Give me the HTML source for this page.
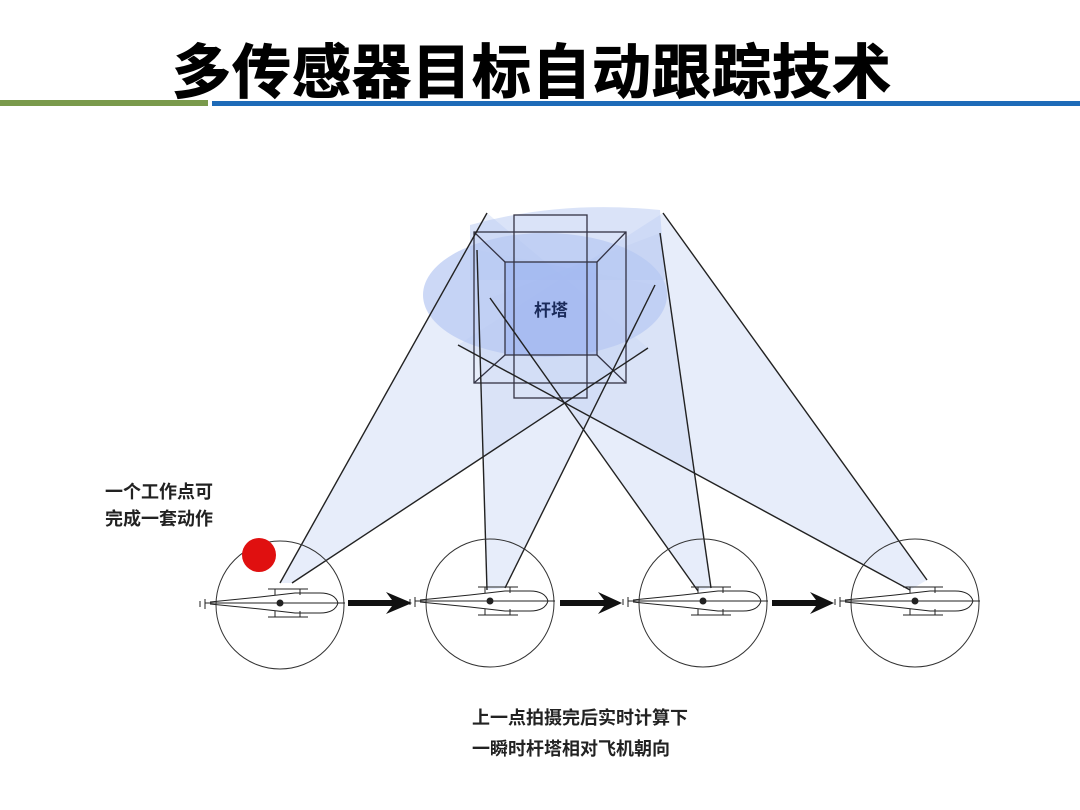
<!DOCTYPE html>
<html><head><meta charset="utf-8"><style>
body{margin:0;width:1080px;height:810px;background:#fff;overflow:hidden;position:relative;font-family:"Liberation Sans","Noto Sans CJK SC",sans-serif}
.t{position:absolute;font-weight:bold}
</style></head><body>
<div class="t" style="left:172px;top:25px;font-size:59px;letter-spacing:1px;color:#000;-webkit-text-stroke:1px #000">多传感器目标自动跟踪技术</div>
<div style="position:absolute;left:0;top:100px;width:208px;height:6px;background:#7a9a4c"></div>
<div style="position:absolute;left:212px;top:101px;width:868px;height:5px;background:#1e6bb8"></div>
<svg width="1080" height="810" style="position:absolute;left:0;top:0">
<defs>
<g id="h" stroke="#222" stroke-width="1" fill="none">
<line x1="-75" y1="0" x2="65" y2="0"/><line x1="-75" y1="-4" x2="-75" y2="6"/><line x1="-80" y1="-2" x2="-80" y2="4"/>
<path d="M-70,-1 L-20,-6 L15,-10 L40,-10 Q55,-10 58,0 Q55,10 40,10 L15,10 L-20,6 L-70,1" fill="none"/>
<line x1="-12" y1="-14" x2="28" y2="-14"/><line x1="-12" y1="14" x2="28" y2="14"/>
<line x1="-5" y1="-14" x2="-5" y2="-8"/><line x1="20" y1="-14" x2="20" y2="-8"/>
<line x1="-5" y1="14" x2="-5" y2="8"/><line x1="20" y1="14" x2="20" y2="8"/>
<circle cx="0" cy="0" r="3" fill="#222"/>
</g>
</defs>
<g fill="#c9d6f5" fill-opacity="0.45">
<polygon points="280,583 487,213 648,348 292,583"/>
<polygon points="487,590 477,250 655,285 505,588"/>
<polygon points="698,591 490,298 660,233 711,588"/>
<polygon points="910,590 458,345 663,213 927,580"/>
</g>
<ellipse cx="545" cy="295" rx="122" ry="62" fill="#b6c8f2" fill-opacity="0.7"/>
<path d="M470,225 Q560,200 660,210 L665,280 L470,280Z" fill="#b6c8f2" fill-opacity="0.5"/>
<rect x="505" y="262" width="92" height="93" fill="#8fa9ef" fill-opacity="0.45"/>
<g fill="none" stroke="#334" stroke-width="1.3">
<rect x="474" y="232" width="152" height="151"/>
<rect x="514" y="215" width="73" height="183"/>
<rect x="505" y="262" width="92" height="93"/>
<line x1="474" y1="232" x2="505" y2="262"/><line x1="626" y1="232" x2="597" y2="262"/>
<line x1="474" y1="383" x2="505" y2="355"/><line x1="626" y1="383" x2="597" y2="355"/>
</g>
<g stroke="#222" stroke-width="1.4">
<line x1="280" y1="583" x2="487" y2="213"/><line x1="292" y1="583" x2="648" y2="348"/>
<line x1="487" y1="590" x2="477" y2="250"/><line x1="505" y1="588" x2="655" y2="285"/>
<line x1="698" y1="591" x2="490" y2="298"/><line x1="711" y1="588" x2="660" y2="233"/>
<line x1="910" y1="590" x2="458" y2="345"/><line x1="927" y1="580" x2="663" y2="213"/>
</g>
<text x="551" y="316" font-size="17" font-weight="bold" fill="#1a2a5a" text-anchor="middle" font-family="Liberation Sans,Noto Sans CJK SC,sans-serif">杆塔</text>
<g fill="none" stroke="#333" stroke-width="1">
<circle cx="280" cy="605" r="64"/><circle cx="490" cy="603" r="64"/><circle cx="703" cy="603" r="64"/><circle cx="915" cy="603" r="64"/>
</g>
<use href="#h" transform="translate(280,603)"/>
<use href="#h" transform="translate(490,601)"/>
<use href="#h" transform="translate(703,601)"/>
<use href="#h" transform="translate(915,601)"/>
<g fill="#111">
<path d="M348,600 L392,600 L386,592 L412,603 L386,614 L392,606 L348,606Z"/>
<path d="M560,600 L604,600 L598,592 L622,603 L598,614 L604,606 L560,606Z"/>
<path d="M772,600 L816,600 L810,592 L834,603 L810,614 L816,606 L772,606Z"/>
</g>
<circle cx="259" cy="555" r="17" fill="#e01010"/>
</svg>
<div class="t" style="left:105px;top:479px;font-size:18px;line-height:27px;color:#222">一个工作点可<br>完成一套动作</div>
<div class="t" style="left:472px;top:703px;font-size:18px;line-height:31px;color:#222">上一点拍摄完后实时计算下<br>一瞬时杆塔相对飞机朝向</div>
</body></html>
